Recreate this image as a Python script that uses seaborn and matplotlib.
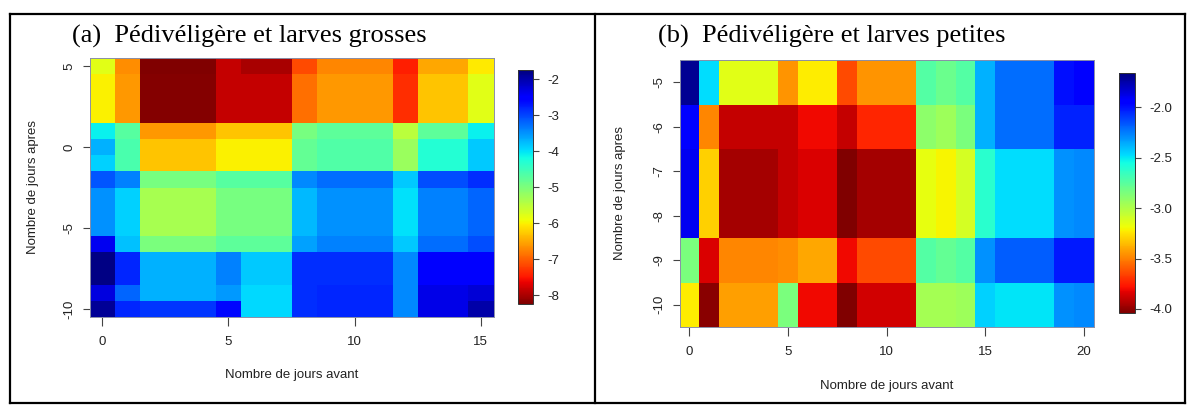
import numpy as np
import pandas as pd
import seaborn as sns
import matplotlib
matplotlib.use("Agg")
import matplotlib.pyplot as plt
from matplotlib.lines import Line2D

sns.set_theme(style="white")
plt.rcParams["font.family"] = ["Liberation Sans", "DejaVu Sans"]

# ---------------- panel (a): larves grosses ----------------
jours_avant_a = list(range(0, 16))
jours_apres_a = list(range(5, -11, -1))          # top row first
# one list per "jours apres" value (5 .. -10), columns = jours avant 0 .. 15
a_p5  = [-5.80, -6.70, -8.25, -8.25, -8.25, -7.85, -8.00, -8.00, -7.15, -6.75, -6.75, -6.75, -7.45, -6.50, -6.50, -6.05]
a_p4  = [-6.00, -6.60, -8.20, -8.20, -8.20, -7.85, -7.85, -7.85, -6.90, -6.60, -6.60, -6.60, -7.35, -6.30, -6.30, -5.80]
a_p3  = [-6.00, -6.60, -8.20, -8.20, -8.20, -7.85, -7.85, -7.85, -6.90, -6.60, -6.60, -6.60, -7.35, -6.30, -6.30, -5.80]
a_p2  = [-6.00, -6.60, -8.20, -8.20, -8.20, -7.85, -7.85, -7.85, -6.90, -6.60, -6.60, -6.60, -7.35, -6.30, -6.30, -5.80]
a_p1  = [-4.10, -4.70, -6.60, -6.60, -6.60, -6.30, -6.30, -6.30, -4.95, -4.75, -4.75, -4.75, -5.50, -4.75, -4.75, -4.10]
a_0   = [-3.70, -4.60, -6.30, -6.30, -6.30, -6.00, -6.00, -6.00, -4.80, -4.65, -4.65, -4.65, -5.25, -4.30, -4.30, -3.85]
a_m1  = [-3.90, -4.60, -6.30, -6.30, -6.30, -6.00, -6.00, -6.00, -4.80, -4.65, -4.65, -4.65, -5.25, -4.30, -4.30, -3.85]
a_m2  = [-3.10, -3.40, -4.95, -4.95, -4.95, -4.70, -4.70, -4.70, -3.45, -3.25, -3.25, -3.25, -3.85, -3.05, -3.05, -2.85]
a_m3  = [-3.50, -3.90, -5.35, -5.35, -5.35, -4.95, -4.95, -4.95, -3.75, -3.50, -3.50, -3.50, -4.00, -3.40, -3.40, -3.20]
a_m4  = [-3.50, -3.90, -5.35, -5.35, -5.35, -4.95, -4.95, -4.95, -3.75, -3.50, -3.50, -3.50, -4.00, -3.40, -3.40, -3.20]
a_m5  = [-3.50, -3.90, -5.35, -5.35, -5.35, -4.95, -4.95, -4.95, -3.75, -3.50, -3.50, -3.50, -4.00, -3.40, -3.40, -3.20]
a_m6  = [-2.40, -3.80, -5.00, -5.00, -5.00, -4.75, -4.75, -4.75, -3.60, -3.40, -3.40, -3.40, -3.85, -3.25, -3.25, -3.05]
a_m7  = [-1.78, -2.80, -3.70, -3.70, -3.70, -3.40, -3.85, -3.85, -2.85, -2.85, -2.85, -2.85, -3.45, -2.55, -2.55, -2.55]
a_m8  = [-1.80, -2.80, -3.70, -3.70, -3.70, -3.40, -3.85, -3.85, -2.85, -2.85, -2.85, -2.85, -3.45, -2.55, -2.55, -2.55]
a_m9  = [-2.30, -3.20, -3.70, -3.70, -3.70, -3.55, -3.95, -3.95, -2.85, -2.80, -2.80, -2.80, -3.45, -2.35, -2.35, -2.25]
a_m10 = [-1.90, -2.80, -2.90, -2.90, -2.90, -2.60, -3.95, -3.95, -2.85, -2.80, -2.80, -2.80, -3.45, -2.35, -2.35, -2.00]
xticks_a = [0, 5, 10, 15]
yticks_a = [5, 0, -5, -10]
cbar_ticks_a = [-2, -3, -4, -5, -6, -7, -8]
lim_a = (-8.25, -1.75)

# ---------------- panel (b): larves petites ----------------
jours_avant_b = list(range(0, 21))
jours_apres_b = list(range(-5, -11, -1))
b_m5  = [-1.70, -2.47, -3.14, -3.14, -3.14, -3.45, -3.23, -3.23, -3.64, -3.45, -3.45, -3.45, -2.73, -2.80, -2.73, -2.37, -2.21, -2.21, -2.21, -1.99, -1.95]
b_m6  = [-1.95, -3.49, -3.90, -3.90, -3.90, -3.90, -3.80, -3.80, -3.90, -3.73, -3.73, -3.73, -2.90, -2.95, -2.85, -2.37, -2.21, -2.21, -2.21, -2.04, -2.04]
b_m7  = [-1.90, -3.30, -3.96, -3.96, -3.96, -3.90, -3.85, -3.85, -4.04, -3.96, -3.96, -3.96, -3.16, -3.21, -3.11, -2.61, -2.47, -2.47, -2.47, -2.30, -2.28]
b_m8  = [-1.90, -3.30, -3.96, -3.96, -3.96, -3.90, -3.85, -3.85, -4.04, -3.96, -3.96, -3.96, -3.16, -3.21, -3.11, -2.61, -2.47, -2.47, -2.47, -2.30, -2.28]
b_m9  = [-2.85, -3.85, -3.49, -3.49, -3.49, -3.47, -3.40, -3.40, -3.80, -3.64, -3.64, -3.64, -2.73, -2.78, -2.73, -2.30, -2.18, -2.18, -2.18, -2.02, -2.02]
b_m10 = [-3.23, -4.02, -3.42, -3.42, -3.42, -2.85, -3.80, -3.80, -4.04, -3.87, -3.87, -3.87, -2.97, -2.97, -2.95, -2.45, -2.49, -2.49, -2.49, -2.30, -2.28]
xticks_b = [0, 5, 10, 15, 20]
yticks_b = [-5, -6, -7, -8, -9, -10]
cbar_ticks_b = [-2.0, -2.5, -3.0, -3.5, -4.0]
lim_b = (-4.04, -1.66)

grid_a = pd.DataFrame([a_p5, a_p4, a_p3, a_p2, a_p1, a_0, a_m1, a_m2, a_m3, a_m4,
                       a_m5, a_m6, a_m7, a_m8, a_m9, a_m10],
                      index=jours_apres_a, columns=jours_avant_a)
grid_b = pd.DataFrame([b_m5, b_m6, b_m7, b_m8, b_m9, b_m10],
                      index=jours_apres_b, columns=jours_avant_b)

W, H = 1189, 405
fig = plt.figure(figsize=(W / 100, H / 100), dpi=100)


def frame(l, t, r, b):
    return [l / W, 1 - b / H, (r - l) / W, (b - t) / H]


def draw_panel(grid, lim, xticks, yticks, cticks, cfmt, ax_box, cax_box, xlab_off, ylab_off):
    ax = fig.add_axes(frame(*ax_box))
    cax = fig.add_axes(frame(*cax_box))
    sns.heatmap(grid, ax=ax, cbar_ax=cax, cmap="jet_r", vmin=lim[0], vmax=lim[1],
                xticklabels=False, yticklabels=False)
    cols = list(grid.columns)
    rows = list(grid.index)
    ax.set_xticks([cols.index(v) + 0.5 for v in xticks])
    ax.set_xticklabels([str(v) for v in xticks])
    ax.set_yticks([rows.index(v) + 0.5 for v in yticks])
    ax.set_yticklabels([str(v) for v in yticks], rotation=90, va="center")
    for s in ax.spines.values():
        s.set_visible(True)
        s.set_color("#8a8fa8")
        s.set_linewidth(0.7)
    ax.tick_params(axis="x", direction="out", length=6.5, width=0.8, color="#444444",
                   labelsize=9.5, pad=7, labelcolor="#222222", bottom=True)
    ax.tick_params(axis="y", direction="out", length=5, width=0.8, color="#444444",
                   labelsize=9.5, pad=5, labelcolor="#222222", left=True)
    ax.set_xlabel("Nombre de jours avant", fontsize=9.5, color="#222222")
    ax.set_ylabel("Nombre de jours apres", fontsize=9.5, color="#222222")
    ax.xaxis.set_label_coords(0.5, xlab_off)
    ax.yaxis.set_label_coords(ylab_off, 0.5)

    cbar = ax.collections[0].colorbar
    cbar.set_ticks(cticks)
    cbar.set_ticklabels([cfmt.format(v) for v in cticks])
    cbar.outline.set_edgecolor("#333333")
    cbar.outline.set_linewidth(0.7)
    cax.tick_params(direction="out", length=4, width=0.8, color="#444444",
                    labelsize=9.5, pad=6, labelcolor="#222222", right=True)
    return ax


draw_panel(grid_a, lim_a, xticks_a, yticks_a, cbar_ticks_a, "{:d}",
           (89.5, 58, 493.5, 317), (518, 70, 533, 304), -0.20, -0.125)
draw_panel(grid_b, lim_b, xticks_b, yticks_b, cbar_ticks_b, "{:.1f}",
           (679.5, 60, 1093.5, 327), (1119, 73, 1135, 313), -0.20, -0.13)

# panel titles
serif = ["Liberation Serif", "DejaVu Serif"]
fig.text(72 / W, 1 - 43 / H, "(a)  Pédivéligère et larves grosses", family=serif,
         fontsize=19, ha="left", va="baseline", color="black")
fig.text(658 / W, 1 - 43 / H, "(b)  Pédivéligère et larves petites", family=serif,
         fontsize=19, ha="left", va="baseline", color="black")

# table borders around the two panels
lw = 1.6
for (x0, y0, x1, y1) in [(10, 13.5, 1185, 13.5), (10, 403, 1185, 403),
                         (10, 13.5, 10, 403), (1185, 13.5, 1185, 403),
                         (595, 13.5, 595, 403)]:
    fig.add_artist(Line2D([x0 / W, x1 / W], [1 - y0 / H, 1 - y1 / H],
                          color="black", lw=lw, solid_capstyle="projecting"))

fig.savefig("out.png", dpi=100)
